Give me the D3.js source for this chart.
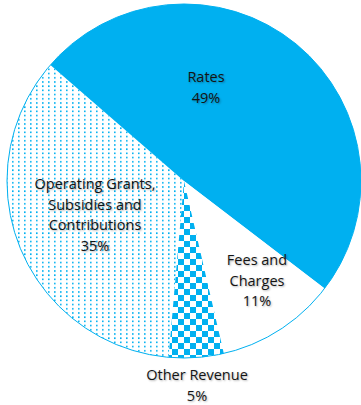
<!DOCTYPE html>
<html>
<head>
<meta charset="utf-8">
<script src="https://cdn.jsdelivr.net/npm/d3@7"></script>
<style>
  body { margin: 0; background: #fff; }
  text { font-family: "Open Sans", sans-serif; font-size: 14.5px; fill: #141414; }
</style>
</head>
<body>
<svg id="chart" width="361" height="405"></svg>
<script>
// revenue split, clockwise starting at the Rates slice
const categories = ["Rates", "Fees and Charges", "Other Revenue", "Operating Grants, Subsidies and Contributions"];
const shares = [49, 11, 5, 35];
const labelLines = [
    ["Rates", "49%"],
    ["Fees and", "Charges", "11%"],
    ["Other Revenue", "5%"],
    ["Operating Grants,", "Subsidies and", "Contributions", "35%"]
];

const blue = "#00b0f0";
const svg = d3.select("#chart");
const cx = 184, cy = 181, radius = 177;

// fill patterns
const defs = svg.append("defs");
const dots = defs.append("pattern")
    .attr("id", "dots")
    .attr("patternUnits", "userSpaceOnUse")
    .attr("width", 6).attr("height", 4.2);
dots.append("rect").attr("x", 2).attr("y", 1).attr("width", 1.6).attr("height", 1.6).attr("fill", blue);

const checks = defs.append("pattern")
    .attr("id", "checks")
    .attr("patternUnits", "userSpaceOnUse")
    .attr("width", 12).attr("height", 12);
checks.append("rect").attr("width", 12).attr("height", 12).attr("fill", "#fff");
checks.append("rect").attr("x", 0).attr("y", 0).attr("width", 6).attr("height", 6).attr("fill", blue);
checks.append("rect").attr("x", 6).attr("y", 6).attr("width", 6).attr("height", 6).attr("fill", blue);

const fills = [blue, "#fff", "url(#checks)", "url(#dots)"];

const start = -49 * Math.PI / 180;
const pie = d3.pie().sort(null).value(d => d)
    .startAngle(start).endAngle(start + 2 * Math.PI);
const arcs = pie(shares);
const arc = d3.arc().innerRadius(0).outerRadius(radius);

const g = svg.append("g").attr("transform", `translate(${cx},${cy})`);

g.selectAll("path.slice")
    .data(arcs)
    .enter().append("path")
    .attr("class", "slice")
    .attr("d", arc)
    .attr("fill", (d, i) => fills[i]);

// thin outline round the pie
g.append("circle")
    .attr("r", radius)
    .attr("fill", "none")
    .attr("stroke", blue)
    .attr("stroke-width", 1);

// label anchor points (baseline of first line), relative to centre
const labelPos = [
    [22, -99],
    [73, 84],
    [13, 199],
    [-89, 8]
];

const lineH = 20.5;
const labels = g.selectAll("text.lbl")
    .data(arcs)
    .enter().append("text")
    .attr("class", "lbl")
    .attr("text-anchor", "middle")
    .style("text-shadow", "1px 1px 2px rgba(0,0,0,0.3)");

labels.each(function(d, i) {
    const t = d3.select(this);
    labelLines[i].forEach((line, k) => {
        t.append("tspan")
            .attr("x", labelPos[i][0])
            .attr("y", labelPos[i][1] + k * lineH)
            .text(line);
    });
});
</script>
</body>
</html>
